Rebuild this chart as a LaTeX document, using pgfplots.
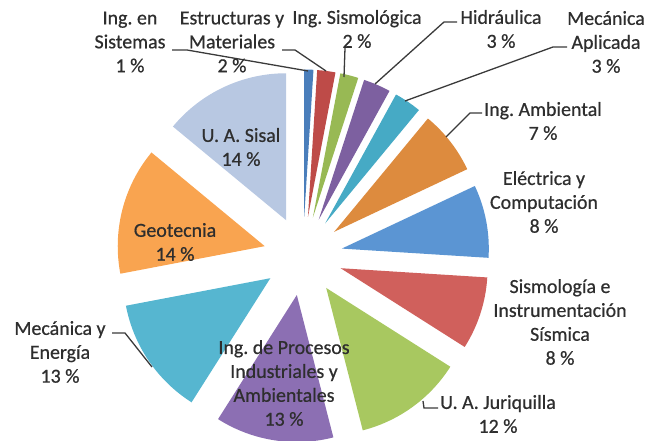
\documentclass[border=0pt]{standalone}
\usepackage{fontspec}
\setmainfont{Carlito}
\newfontfamily\labfont{Carlito}[FakeBold=0.6]
\usepackage{pgfplots}
\usepackage{pgfplotstable}
\pgfplotsset{compat=1.18}
\frenchspacing
\definecolor{c0}{HTML}{4A7EBB}
\definecolor{c1}{HTML}{BE4B48}
\definecolor{c2}{HTML}{98B954}
\definecolor{c3}{HTML}{7D60A0}
\definecolor{c4}{HTML}{46AAC5}
\definecolor{c5}{HTML}{DD8B3E}
\definecolor{c6}{HTML}{5B95D3}
\definecolor{c7}{HTML}{D0605C}
\definecolor{c8}{HTML}{A8C860}
\definecolor{c9}{HTML}{8C6FB3}
\definecolor{c10}{HTML}{56B6D0}
\definecolor{c11}{HTML}{F9A450}
\definecolor{c12}{HTML}{B8C8E2}
\definecolor{txt}{HTML}{2E2E2E}
\definecolor{lead}{HTML}{3A3A3A}
\pgfplotstableread{
pct
1
2
2
3
3
7
8
8
12
13
13
14
14
}\piedata
\begin{document}
\begin{tikzpicture}
\begin{axis}[
  width=653bp, height=441bp, scale only axis,
  xmin=0, xmax=653, ymin=0, ymax=441,
  axis line style={draw=none}, xtick=\empty, ytick=\empty,
  enlargelimits=false,
]
\pgfmathsetmacro\cum{0}
\pgfplotsforeachungrouped \i in {0,...,12}{%
  \pgfplotstablegetelem{\i}{pct}\of\piedata
  \pgfmathsetmacro\p{\pgfplotsretval}%
  \pgfmathsetmacro\aone{90-3.6*\cum}%
  \pgfmathsetmacro\atwo{90-3.6*(\cum+\p)}%
  \pgfmathsetmacro\amid{(\aone+\atwo)/2}%
  \pgfmathsetmacro\ox{303+39.5*cos(\amid)}%
  \pgfmathsetmacro\oy{185+39.5*sin(\amid)}%
  \edef\doit{\noexpand\addplot[fill=c\i, draw=none, domain=\atwo:\aone, samples=80, variable=\noexpand\t] ({\ox+147*cos(\noexpand\t)}, {\oy+147*sin(\noexpand\t)}) -- (axis cs:\ox,\oy) -- cycle;}%
  \doit
  \pgfmathsetmacro\cum{\cum+\p}%
}
% leader lines
\addplot[lead, line width=1.3pt] coordinates {(172,391) (187,391) (308,370)};
\addplot[lead, line width=1.3pt] coordinates {(282,391) (295,391) (326,370)};
\addplot[lead, line width=1.3pt] coordinates {(345,393) (344,364)};
\addplot[lead, line width=1.3pt] coordinates {(457,419) (444,419) (375,357)};
\addplot[lead, line width=1.3pt] coordinates {(567,394) (553,394) (405,340)};
\addplot[lead, line width=1.3pt] coordinates {(482,328) (470,328) (446,304)};
\addplot[lead, line width=1.3pt] coordinates {(438,33) (424,33) (423,40)};
\addplot[lead, line width=1.3pt] coordinates {(112,108) (125,108) (152,74)};
% labels
\begin{scope}[every node/.style={align=center, inner sep=0pt, text=txt, font=\labfont\fontsize{20}{24}\selectfont}]
\node at (axis cs:130,399) {Ing. en\\Sistemas\\1 \%};
\node at (axis cs:232,399) {Estructuras y\\Materiales\\2 \%};
\node at (axis cs:357,412) {Ing. Sismológica\\2 \%};
\node at (axis cs:501,412) {Hidráulica\\3 \%};
\node at (axis cs:606,399) {Mecánica\\Aplicada\\3 \%};
\node at (axis cs:543,320) {Ing. Ambiental\\7 \%};
\node at (axis cs:544,239) {Eléctrica y\\Computación\\8 \%};
\node at (axis cs:560,119) {Sismología e\\Instrumentación\\Sísmica\\8 \%};
\node at (axis cs:498,27) {U. A. Juriquilla\\12 \%};
\node at (axis cs:284,58) {Ing. de Procesos\\Industriales y\\Ambientales\\13 \%};
\node at (axis cs:60,89) {Mecánica y\\Energía\\13 \%};
\node at (axis cs:175,199) {Geotecnia\\14 \%};
\node at (axis cs:241,294) {U. A. Sisal\\14 \%};
\end{scope}
\end{axis}
\end{tikzpicture}
\end{document}
